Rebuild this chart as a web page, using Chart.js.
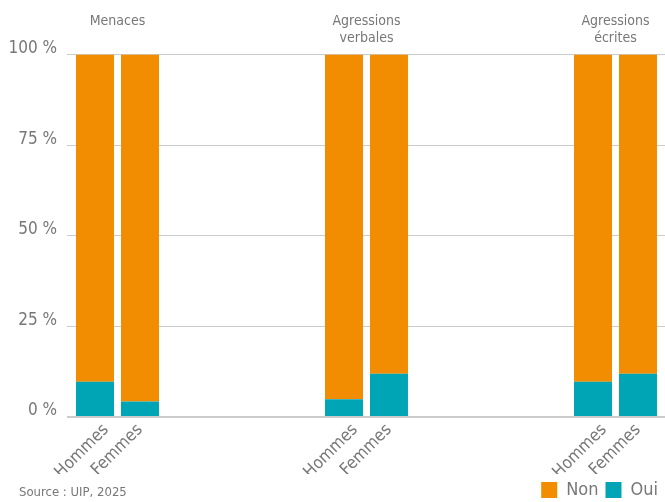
<!DOCTYPE html>
<html>
<head>
<meta charset="utf-8">
<script src="https://cdn.jsdelivr.net/npm/chart.js@4.4.1/dist/chart.umd.min.js"></script>
<style>
  body { margin: 0; background: #fff; }
  #wrap { position: relative; width: 665px; height: 502px; }
  #source {
    position: absolute; left: 19px; top: 484px;
    font-family: 'Liberation Sans Narrow', 'DejaVu Sans Condensed', sans-serif;
    font-size: 13px; color: #777;
  }
</style>
</head>
<body>
<div id="wrap">
  <canvas id="chart" width="665" height="502"></canvas>
  <div id="source">Source : UIP, 2025</div>
</div>
<script>
var groups = ['Menaces', ['Agressions', 'verbales'], ['Agressions', 'écrites']];
var genders = ['Hommes', 'Femmes'];
var ouiHommes = [9.7, 4.9, 9.7];
var nonHommes = [90.3, 95.1, 90.3];
var ouiFemmes = [4.3, 11.9, 11.9];
var nonFemmes = [95.7, 88.1, 88.1];
var yTicks = [0, 25, 50, 75, 100];

var orange = '#f28c00';
var teal = '#00a5b5';
var fontFam = "'Liberation Sans Narrow', 'DejaVu Sans Condensed', sans-serif";
var xMin = -0.2028, xMax = 2.1988;

function pts(arr) {
	var out = [];
	for (var i in arr) {
		out.push({ x: Number(i), y: arr[i] });
	}
	return out;
}

var datasets = [
	{ label: 'Oui', stack: 'H', backgroundColor: teal, data: pts(ouiHommes) },
	{ label: 'Non', stack: 'H', backgroundColor: orange, data: pts(nonHommes) },
	{ label: 'Oui', stack: 'F', backgroundColor: teal, data: pts(ouiFemmes) },
	{ label: 'Non', stack: 'F', backgroundColor: orange, data: pts(nonFemmes) }
];
datasets.forEach(function(d){
	d.categoryPercentage = 0.3614;
	d.barPercentage = 0.844;
	d.borderWidth = 0;
});

var ctx = document.getElementById('chart').getContext('2d');
var barGraph = new Chart(ctx, {
	type: 'bar',
	data: { datasets: datasets },
	options: {
		responsive: false,
		animation: false,
		layout: { padding: { top: 5, right: 0, bottom: -7, left: 0 } },
		plugins: {
			tooltip: { enabled: false },
			legend: {
				position: 'bottom',
				align: 'end',
				labels: {
					boxWidth: 16,
					boxHeight: 16,
					padding: 7,
					color: '#777',
					font: { family: fontFam, size: 18 },
					filter: function(item) { return item.datasetIndex < 2; },
					sort: function(a, b) { return b.datasetIndex - a.datasetIndex; }
				}
			}
		},
		scales: {
			x: {
				type: 'linear',
				position: 'top',
				offset: false,
				min: xMin,
				max: xMax,
				grid: { display: false, drawTicks: false, offset: false },
				border: { display: false },
				afterBuildTicks: function(scale) {
					scale.ticks = groups.map(function(g, i){ return { value: i }; });
				},
				ticks: {
					padding: 8,
					maxRotation: 0,
					crossAlign: 'far',
					color: '#777',
					font: { family: fontFam, size: 14, lineHeight: 1.2 },
					callback: function(v) { return groups[v]; }
				}
			},
			xb: {
				type: 'linear',
				position: 'bottom',
				offset: false,
				min: xMin,
				max: xMax,
				grid: { display: false, drawTicks: false, offset: false },
				border: { display: false },
				afterBuildTicks: function(scale) {
					var t = [];
					groups.forEach(function(g, i){
						t.push({ value: i - 0.046 });
						t.push({ value: i + 0.0904 });
					});
					scale.ticks = t;
				},
				afterFit: function(scale) { scale.height = 57; },
				ticks: {
					padding: 3,
					minRotation: 45,
					maxRotation: 45,
					color: '#777',
					font: { family: fontFam, size: 17 },
					callback: function(v, idx) { return genders[idx % 2]; }
				}
			},
			y: {
				stacked: true,
				min: 0,
				max: 100,
				afterFit: function(scale) { scale.width = 67; },
				afterBuildTicks: function(scale) {
					scale.ticks = yTicks.map(function(v){ return { value: v }; });
				},
				grid: {
					color: '#cccccc',
					drawTicks: false,
					lineWidth: function(c) { return c.tick && c.tick.value === 0 ? 2 : 1; }
				},
				border: { display: false },
				ticks: {
					padding: 10,
					labelOffset: -6,
					color: '#777',
					font: { family: fontFam, size: 17 },
					callback: function(v) { return v + ' %'; }
				}
			}
		}
	}
});
</script>
</body>
</html>
